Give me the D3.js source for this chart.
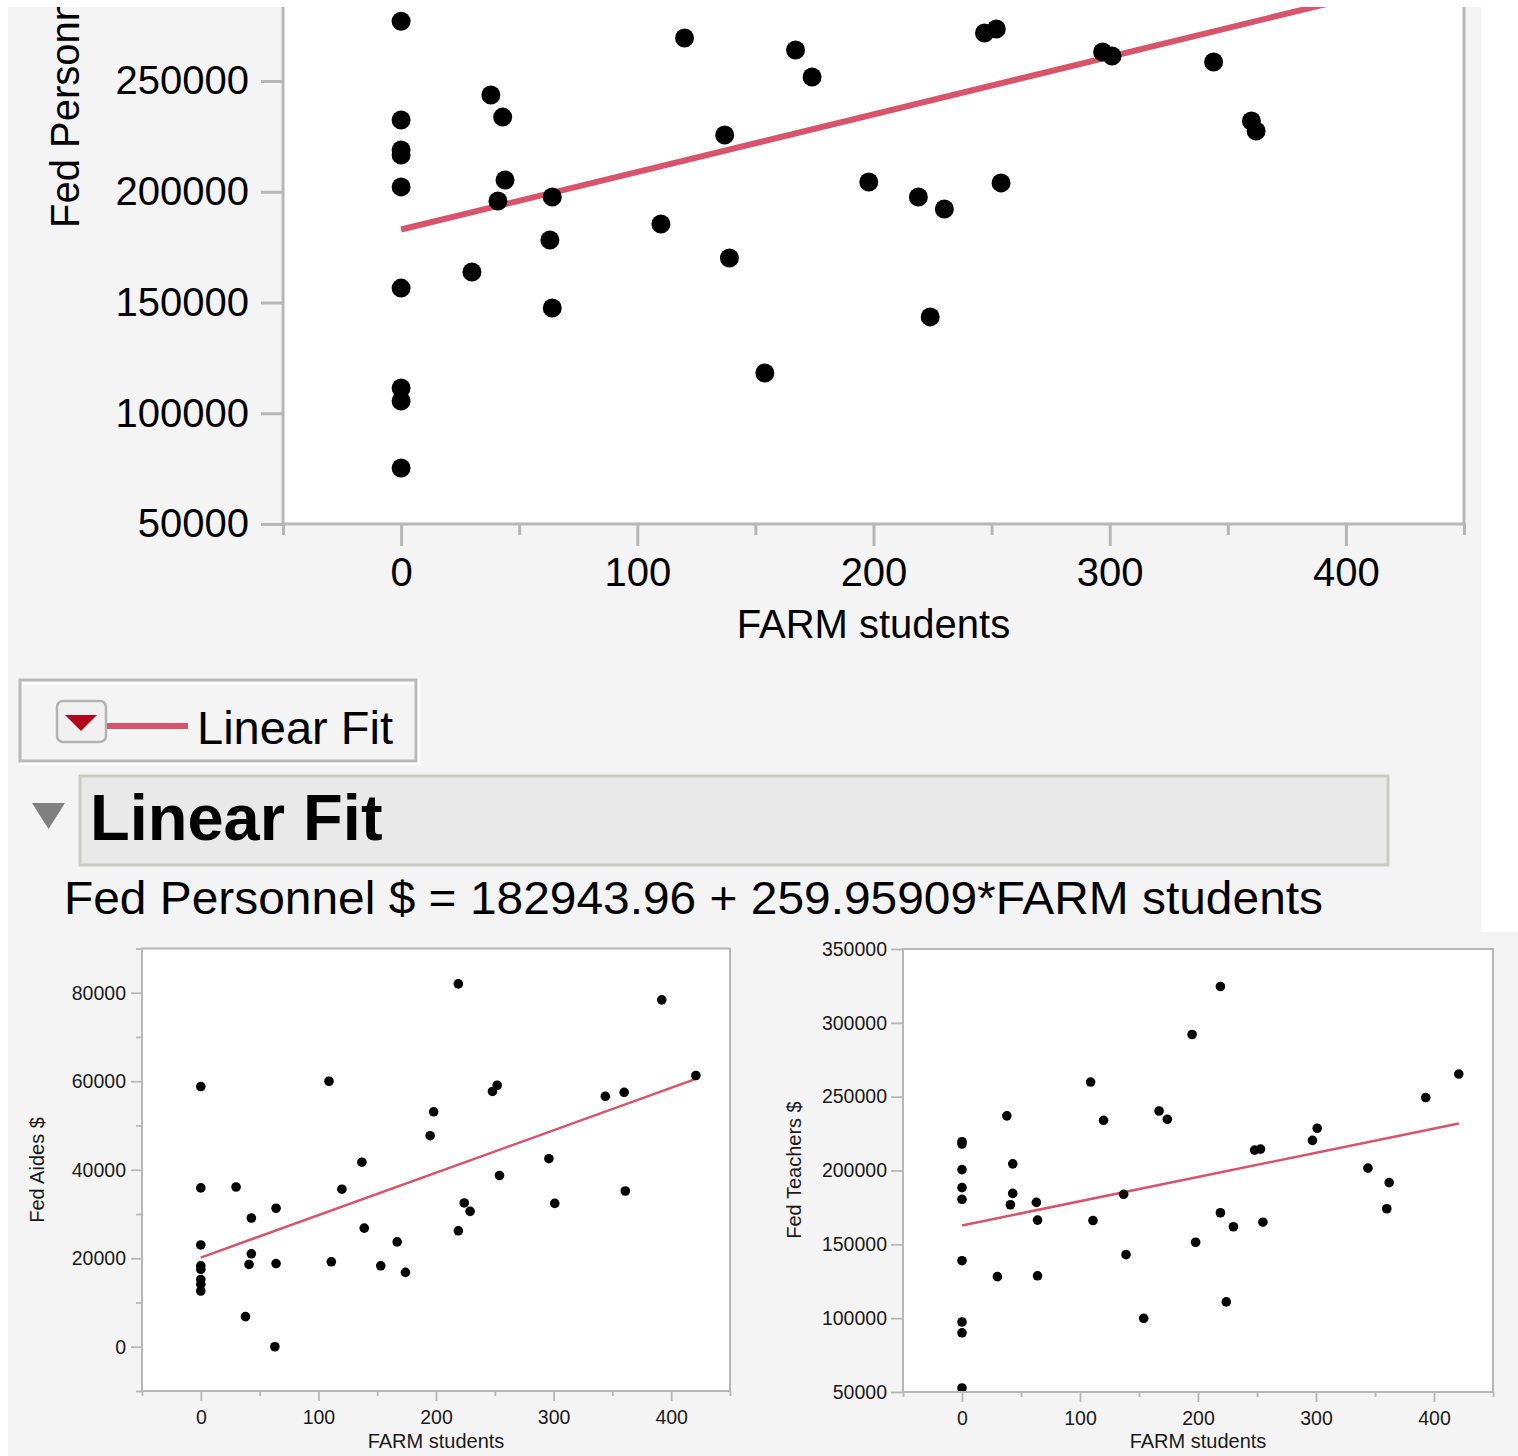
<!DOCTYPE html>
<html>
<head>
<meta charset="utf-8">
<script src="https://cdnjs.cloudflare.com/ajax/libs/d3/7.8.5/d3.min.js"></script>
<style>
  body { margin: 0; background: #ffffff; }
  text { font-family: "Liberation Sans", Arial, Helvetica, sans-serif; }
</style>
</head>
<body>
<svg id="chart" width="1518" height="1456"></svg>
<script>
// ---- Fed Personnel $ vs FARM students ----
const personnelFarm = [0, 0, 0, 0, 0, 0, 0, 0, 0, 30, 38, 43, 41, 44, 63, 64, 64, 110, 120, 137,
  139, 154, 167, 174, 198, 219, 224, 230, 247, 252, 254, 297, 301, 344, 360, 362];
const personnelDollars = [277000, 232400, 218900, 216600, 202200, 156500, 111400, 105500, 75300, 163800,
  243700, 233700, 195800, 205300, 178200, 197600, 147500, 185400, 269400, 225600,
  170100, 118200, 264000, 251800, 204400, 197600, 143500, 192200, 271700, 273500,
  204000, 263100, 261300, 258600, 231900, 227400];
const personnelFit = [182943.96, 259.95909];   // intercept, slope

// ---- Fed Aides $ vs FARM students ----
const aidesFarm = [0, 0, 0, 0, 0, 0, 0, 0, 30, 38, 41, 43, 43, 64, 63, 64, 109, 111, 120, 137,
  139, 153, 167, 174, 195, 198, 219, 219, 224, 229, 248, 252, 254, 296, 301, 344, 360, 361, 392, 421];
const aidesDollars = [58800, 35900, 23000, 18300, 17500, 15200, 14100, 12600, 36100, 6800,
  18600, 29100, 21000, 31300, 0, 18800, 60000, 19200, 35600, 41700,
  26800, 18300, 23700, 16800, 47700, 53100, 82000, 26200, 32500, 30600,
  57700, 59100, 38700, 42500, 32400, 56600, 57500, 35200, 78400, 61300];
const aidesFit = [20150, 95.9];

// ---- Fed Teachers $ vs FARM students ----
const teachersFarm = [0, 0, 0, 0, 0, 0, 0, 0, 0, 30, 38, 41, 43, 43, 63, 64, 64, 109, 111, 120,
  137, 139, 154, 167, 174, 195, 198, 219, 219, 224, 230, 248, 253, 255, 297, 301, 344, 360, 362, 393, 421];
const teachersDollars = [219500, 217900, 200600, 188400, 180500, 138900, 97400, 90100, 52700, 128100,
  237000, 176800, 204500, 184500, 178400, 166400, 128700, 259900, 166100, 234000,
  183900, 143000, 99900, 240300, 234700, 292100, 151400, 324600, 171400, 111000,
  161900, 213800, 214500, 165000, 220400, 228600, 201600, 174100, 191800, 249400, 265300];
const teachersFit = [162794, 164.06];

// Range of FARM students over which the fits are drawn
const farmRange = [0, 421];

// Tick values
const farmTicks = [0, 100, 200, 300, 400];
const farmMinorTicks = [-50, 50, 150, 250, 350, 450];
const personnelTicks = [50000, 100000, 150000, 200000, 250000];
const aidesTicks = [0, 20000, 40000, 60000, 80000];
const aidesMinorTicks = [-10000, 10000, 30000, 50000, 70000, 90000];
const teachersTicks = [50000, 100000, 150000, 200000, 250000, 300000, 350000];

const FIT_RED = "#d9536a";
const AXIS_GRAY = "#b7b7b7";

const svg = d3.select("#chart");

// panel backgrounds
svg.append("rect").attr("x", 8).attr("y", 7).attr("width", 1473).attr("height", 926).attr("fill", "#f4f4f4");
svg.append("rect").attr("x", 8).attr("y", 932).attr("width", 1510).attr("height", 524).attr("fill", "#f4f4f4");

// the upper report window starts at y = 7; anything above is out of view
svg.append("clipPath").attr("id", "clip-upper").append("rect")
  .attr("x", 8).attr("y", 7).attr("width", 1473).attr("height", 926);

const fmt = d3.format("d");

function styleAxis(g, width, font, textColor) {
  g.select(".domain").remove();
  g.selectAll(".tick line").attr("stroke", AXIS_GRAY).attr("stroke-width", width);
  g.selectAll(".tick text").attr("font-size", font).attr("fill", textColor)
    .attr("font-family", '"Liberation Sans", Arial, Helvetica, sans-serif');
}

function drawPanel(cfg) {
  const x = d3.scaleLinear().domain([-50, 450]).range(cfg.xRange);
  const y = d3.scaleLinear().domain(cfg.yDomain).range(cfg.yRange);
  const left = cfg.xRange[0], right = cfg.xRange[1];
  const bottom = cfg.yRange[0];
  const top = cfg.plotTop;

  svg.append("rect").attr("x", left).attr("y", top)
    .attr("width", right - left).attr("height", bottom - top).attr("fill", "#ffffff");

  const clipId = "clip-" + cfg.id;
  svg.append("clipPath").attr("id", clipId).append("rect")
    .attr("x", left).attr("y", top).attr("width", right - left).attr("height", bottom - top);

  const plot = svg.append("g").attr("clip-path", `url(#${clipId})`);

  // regression line
  const line = d3.line().x(d => x(d)).y(d => y(cfg.fit[0] + cfg.fit[1] * d));
  plot.append("path").datum(farmRange).attr("d", line)
    .attr("fill", "none").attr("stroke", FIT_RED).attr("stroke-width", cfg.lineWidth);

  // observations
  plot.selectAll("circle.pt").data(cfg.xs).join("circle").attr("class", "pt")
    .attr("cx", d => x(d)).attr("cy", (d, i) => y(cfg.ys[i]))
    .attr("r", cfg.r).attr("fill", "#000");

  // axes
  const ax = svg.append("g").attr("transform", `translate(0,${bottom})`)
    .call(d3.axisBottom(x).tickValues(farmTicks).tickSize(cfg.xMajor).tickPadding(cfg.xPad).tickFormat(fmt));
  styleAxis(ax, cfg.tickWidth, cfg.font, cfg.textColor);
  const axm = svg.append("g").attr("transform", `translate(0,${bottom})`)
    .call(d3.axisBottom(x).tickValues(farmMinorTicks).tickSize(cfg.xMinor).tickFormat(""));
  styleAxis(axm, cfg.tickWidth, cfg.font, cfg.textColor);

  const ay = svg.append("g").attr("transform", `translate(${left},0)`)
    .call(d3.axisLeft(y).tickValues(cfg.yTicks).tickSize(cfg.yMajor).tickPadding(cfg.yPad).tickFormat(fmt));
  styleAxis(ay, cfg.tickWidth, cfg.font, cfg.textColor);
  if (cfg.yMinorTicks) {
    const aym = svg.append("g").attr("transform", `translate(${left},0)`)
      .call(d3.axisLeft(y).tickValues(cfg.yMinorTicks).tickSize(cfg.yMinor).tickFormat(""));
    styleAxis(aym, cfg.tickWidth, cfg.font, cfg.textColor);
  }

  // frame
  const frame = svg.append("g").attr("fill", "none").attr("stroke", AXIS_GRAY).attr("stroke-width", cfg.frameWidth);
  frame.append("line").attr("x1", left).attr("x2", left).attr("y1", top).attr("y2", bottom);
  frame.append("line").attr("x1", right).attr("x2", right).attr("y1", top).attr("y2", bottom);
  frame.append("line").attr("x1", left - cfg.frameWidth / 2).attr("x2", right + cfg.frameWidth / 2).attr("y1", bottom).attr("y2", bottom);
  if (cfg.topBorder) {
    frame.append("line").attr("x1", left - cfg.frameWidth / 2).attr("x2", right + cfg.frameWidth / 2).attr("y1", top).attr("y2", top);
  }

  // axis titles
  svg.append("text").attr("x", (left + right) / 2).attr("y", cfg.xTitleY)
    .attr("text-anchor", "middle").attr("font-size", cfg.titleFont).attr("fill", cfg.textColor)
    .text("FARM students");
  const titleGroup = svg.append("g");
  if (cfg.titleClip) titleGroup.attr("clip-path", `url(#${cfg.titleClip})`);
  titleGroup.append("text")
    .attr("transform", `translate(${cfg.yTitleX},${cfg.yTitleY}) rotate(-90)`)
    .attr("text-anchor", cfg.yTitleAnchor).attr("font-size", cfg.titleFont).attr("fill", cfg.textColor)
    .text(cfg.yTitle);
}

// large scatter: Fed Personnel $
drawPanel({
  id: "personnel", xs: personnelFarm, ys: personnelDollars, fit: personnelFit,
  xRange: [283, 1464], yDomain: [50000, 250000], yRange: [524, 81], plotTop: 7,
  yTicks: personnelTicks, r: 9.5, lineWidth: 6, font: 40, titleFont: 40, textColor: "#000",
  xMajor: 22, xMinor: 11, xPad: 12, yMajor: 22, yPad: 12, tickWidth: 3, frameWidth: 3,
  topBorder: false, xTitleY: 638, yTitle: "Fed Personnel $", yTitleX: 79, yTitleY: 228,
  yTitleAnchor: "start", titleClip: "clip-upper"
});

// small scatter: Fed Aides $
drawPanel({
  id: "aides", xs: aidesFarm, ys: aidesDollars, fit: aidesFit,
  xRange: [142, 730], yDomain: [-10000, 90000], yRange: [1391, 948.5], plotTop: 948.5,
  yTicks: aidesTicks, yMinorTicks: aidesMinorTicks, yMinor: 6,
  r: 4.8, lineWidth: 2.5, font: 19.5, titleFont: 20, textColor: "#1a1a1a",
  xMajor: 10, xMinor: 5, xPad: 9, yMajor: 11, yPad: 5, tickWidth: 1.8, frameWidth: 2,
  topBorder: true, xTitleY: 1448, yTitle: "Fed Aides $", yTitleX: 44, yTitleY: 1170, yTitleAnchor: "middle"
});

// small scatter: Fed Teachers $
drawPanel({
  id: "teachers", xs: teachersFarm, ys: teachersDollars, fit: teachersFit,
  xRange: [903, 1493], yDomain: [50000, 350000], yRange: [1392, 949], plotTop: 949,
  yTicks: teachersTicks,
  r: 4.8, lineWidth: 2.5, font: 19.5, titleFont: 20, textColor: "#1a1a1a",
  xMajor: 10, xMinor: 5, xPad: 9, yMajor: 12, yPad: 4, tickWidth: 1.8, frameWidth: 2,
  topBorder: true, xTitleY: 1448, yTitle: "Fed Teachers $", yTitleX: 801, yTitleY: 1170, yTitleAnchor: "middle"
});

// legend box for the fitted line
const legend = svg.append("g");
legend.append("rect").attr("x", 20).attr("y", 680).attr("width", 396).attr("height", 81)
  .attr("fill", "#f4f4f4").attr("stroke", "#b9b9b9").attr("stroke-width", 3);
legend.append("line").attr("x1", 22).attr("x2", 414).attr("y1", 683.5).attr("y2", 683.5)
  .attr("stroke", "#ffffff").attr("stroke-width", 2.5);
legend.append("polyline").attr("points", "20,764 419,764 419,680")
  .attr("fill", "none").attr("stroke", "#ffffff").attr("stroke-width", 2.5);
legend.append("rect").attr("x", 57).attr("y", 701).attr("width", 49).attr("height", 41).attr("rx", 6)
  .attr("fill", "#f1f1f1").attr("stroke", "#b3b3b3").attr("stroke-width", 2.5);
legend.append("path").attr("d", "M65,715 L97,715 L81,731 Z").attr("fill", "#b3061d");
legend.append("line").attr("x1", 107).attr("x2", 188).attr("y1", 726).attr("y2", 726)
  .attr("stroke", FIT_RED).attr("stroke-width", 6);
legend.append("text").attr("x", 197).attr("y", 744).attr("font-size", 46).attr("fill", "#000")
  .attr("textLength", 196).attr("lengthAdjust", "spacingAndGlyphs").text("Linear Fit");

// report header
svg.append("path").attr("d", "M32,803 L65,803 L48.5,829 Z").attr("fill", "#808080");
svg.append("rect").attr("x", 80).attr("y", 776).attr("width", 1308).attr("height", 89)
  .attr("fill", "#e9e9e9").attr("stroke", "#cbcbc4").attr("stroke-width", 3);
svg.append("text").attr("x", 90).attr("y", 840).attr("font-size", 65).attr("font-weight", "bold")
  .attr("fill", "#000").text("Linear Fit");

// fitted equation
svg.append("text").attr("x", 64).attr("y", 914).attr("font-size", 47).attr("fill", "#000")
  .attr("textLength", 1259).attr("lengthAdjust", "spacingAndGlyphs")
  .text(`Fed Personnel $ = ${personnelFit[0].toFixed(2)} + ${personnelFit[1].toFixed(5)}*FARM students`);
</script>
</body>
</html>
